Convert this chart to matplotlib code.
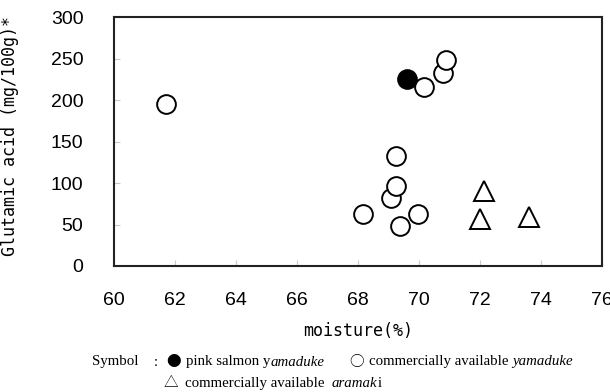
import matplotlib
matplotlib.use("Agg")
import matplotlib.pyplot as plt

# moisture (%) vs glutamic acid (mg/100g)
pink_moisture = [69.6]
pink_glu = [226]

yamaduke_moisture = [61.7, 69.37, 68.15, 69.98, 69.08, 69.23, 69.25, 70.15, 70.8, 70.9]
yamaduke_glu = [195, 48, 63, 63, 82, 97, 133, 216, 233, 249]

aramaki_moisture = [72.0, 73.6, 72.13]
aramaki_glu = [57, 59, 91]

x_ticks = [60, 62, 64, 66, 68, 70, 72, 74, 76]
y_ticks = [0, 50, 100, 150, 200, 250, 300]

TICK_FONT = ["Liberation Sans Narrow", "Liberation Sans", "DejaVu Sans"]
MONO_FONT = ["DejaVu Sans Mono"]
SERIF_FONT = ["Liberation Serif", "DejaVu Serif"]
SYMBOL_FONT = ["Noto Sans CJK JP", "DejaVu Sans"]

fig = plt.figure(figsize=(6.10, 3.92), dpi=100)
ax = fig.add_axes([114 / 610, 126 / 392, 488 / 610, 248.7 / 392])

marker_kw = dict(markersize=13.5, markeredgewidth=1.4, linestyle="none", markeredgecolor="black")
ax.plot(pink_moisture, pink_glu, marker="o", markerfacecolor="black", zorder=3, **marker_kw)
for x, y in zip(yamaduke_moisture, yamaduke_glu):
    ax.plot([x], [y], marker="o", markerfacecolor="white", zorder=3, **marker_kw)
ax.plot(aramaki_moisture, aramaki_glu, marker="^", markerfacecolor="white", zorder=3,
        **{**marker_kw, "markersize": 15})

ax.set_xlim(60, 76)
ax.set_ylim(0, 300)
ax.set_xticks(x_ticks)
ax.set_yticks(y_ticks)
ax.set_xticklabels([str(v) for v in x_ticks], family=TICK_FONT, fontsize=14)
ax.set_yticklabels([str(v) for v in y_ticks], family=TICK_FONT, fontsize=14)
ax.tick_params(axis="both", direction="in", length=4.5, width=0.8, color="#c8c8c8")
ax.tick_params(axis="x", pad=19)
ax.tick_params(axis="y", pad=22)
for side in ax.spines.values():
    side.set_linewidth(1.5)
    side.set_color("#222222")

ax.set_xlabel("moisture(%)", family=MONO_FONT, fontsize=12, labelpad=9)
fig.text(10 / 610, 1 - 136 / 392, "Glutamic acid (mg/100g)*", family=MONO_FONT,
         fontsize=12, rotation=90, ha="center", va="center")


def px(x):
    return x / 610


def py(y):
    return 1 - y / 392


def draw_runs(x0, y0, runs, size=10.7):
    # place differently styled text pieces one after another on a line
    renderer = fig.canvas.get_renderer()
    x = x0
    for text, style in runs:
        t = fig.text(x, y0, text, fontsize=size, va="center", ha="left",
                     family=SERIF_FONT, style="italic" if style == "it" else "normal")
        x += t.get_window_extent(renderer=renderer).width / fig.bbox.width


def draw_symbol(xc, yc, glyph):
    fig.text(xc, yc, glyph, fontsize=10.5, family=SYMBOL_FONT, ha="center", va="center")


line1, line2 = py(362), py(383.5)
draw_runs(px(92), line1, [("Symbol", "rm")])
draw_runs(px(154), line1, [(":", "rm")])
draw_symbol(px(174), line1, "●")
draw_runs(px(186), line1, [("pink salmon y", "rm"), ("amaduke", "it")])
draw_symbol(px(357), line1, "○")
draw_runs(px(369), line1, [("commercially available ", "rm"), ("yamaduke", "it")])
draw_symbol(px(171), line2, "△")
draw_runs(px(185), line2, [("commercially available  ", "rm"), ("aramak", "it"), ("i", "rm")])

fig.savefig("out.png", dpi=100)
